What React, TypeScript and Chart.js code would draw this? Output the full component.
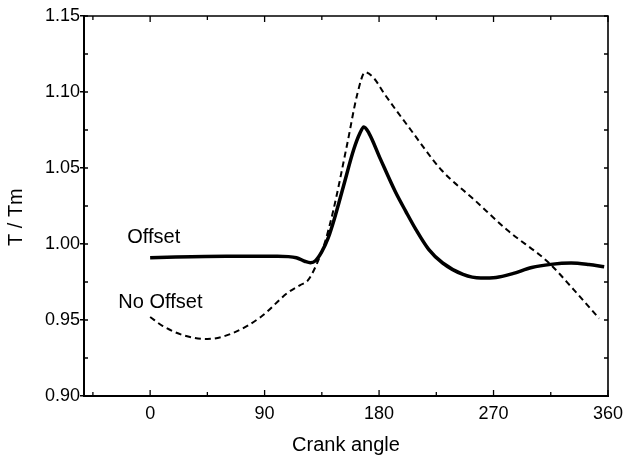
import React, { useEffect, useRef } from "react";
import { Chart, registerables } from "chart.js";

Chart.register(...registerables);

const offsetAngles = [0, 20, 60, 100, 115, 122, 126, 130, 135, 140, 145, 152, 160, 165, 168, 172, 181, 193, 201, 209, 219, 230, 246, 260, 272, 285, 300, 315, 331, 345, 357];
const offsetValues = [0.991, 0.9915, 0.992, 0.992, 0.991, 0.9885, 0.9877, 0.989, 0.995, 1.004, 1.017, 1.038, 1.062, 1.073, 1.077, 1.073, 1.056, 1.034, 1.0215, 1.0095, 0.9965, 0.9875, 0.98, 0.9776, 0.978, 0.9805, 0.9845, 0.9866, 0.9875, 0.9865, 0.985];

const noOffsetAngles = [0, 10, 26, 45, 65, 87, 108, 118, 124, 130, 137, 144, 155, 163, 169, 176, 184, 205, 229, 255, 281, 313, 333, 353];
const noOffsetValues = [0.952, 0.946, 0.94, 0.9375, 0.9414, 0.952, 0.9678, 0.973, 0.976, 0.985, 1.0, 1.022, 1.066, 1.099, 1.113, 1.109, 1.099, 1.075, 1.0487, 1.029, 1.009, 0.988, 0.97, 0.951];

const xTicks = [0, 90, 180, 270, 360];
const xMinorTicks = [-45, 45, 135, 225, 315];
const yTicks = [0.9, 0.95, 1.0, 1.05, 1.1, 1.15];
const yMinorTicks = [0.925, 0.975, 1.025, 1.075, 1.125];

const labels = [
  { text: "Offset", x: -18, y: 1.0046 },
  { text: "No Offset", x: -25, y: 0.9612 },
];

const FONT = "'Liberation Sans', Arial, Helvetica, sans-serif";

const framePlugin = {
  id: "frameTicks",
  afterDatasetsDraw(chart: any) {
    const { ctx, chartArea: a, scales } = chart;
    const xs = scales.x;
    const ys = scales.y;
    ctx.save();
    ctx.strokeStyle = "#000";
    ctx.lineWidth = 1.6;
    ctx.beginPath();
    ctx.moveTo(a.left, a.top);
    ctx.lineTo(a.right, a.top);
    ctx.lineTo(a.right, a.bottom);
    ctx.stroke();
    ctx.lineWidth = 1.3;
    const drawX = (vals: number[], len: number) => {
      vals.forEach((v) => {
        const px = xs.getPixelForValue(v);
        if (px < a.left || px > a.right) return;
        ctx.beginPath();
        ctx.moveTo(px, a.bottom);
        ctx.lineTo(px, a.bottom - len);
        ctx.moveTo(px, a.top);
        ctx.lineTo(px, a.top + len);
        ctx.stroke();
      });
    };
    const drawY = (vals: number[], len: number) => {
      vals.forEach((v) => {
        const py = ys.getPixelForValue(v);
        ctx.beginPath();
        ctx.moveTo(a.left, py);
        ctx.lineTo(a.left + len, py);
        ctx.moveTo(a.right, py);
        ctx.lineTo(a.right - len, py);
        ctx.stroke();
      });
    };
    drawX(xTicks, 6);
    drawX(xMinorTicks, 4);
    drawY(yTicks, 4);
    drawY(yMinorTicks, 4);
    ctx.fillStyle = "#000";
    ctx.font = `20px ${FONT}`;
    ctx.textAlign = "left";
    ctx.textBaseline = "middle";
    labels.forEach((l) => {
      ctx.fillText(l.text, xs.getPixelForValue(l.x), ys.getPixelForValue(l.y));
    });
    ctx.restore();
  },
};

export default function App() {
  const ref = useRef<HTMLCanvasElement | null>(null);
  useEffect(() => {
    if (!ref.current) return;
    const chart = new Chart(ref.current, {
      type: "line",
      data: {
        datasets: [
          {
            label: "Offset",
            data: offsetAngles.map((a, i) => ({ x: a, y: offsetValues[i] })),
            borderColor: "#000",
            borderWidth: 3.5,
            pointRadius: 0,
            fill: false,
            cubicInterpolationMode: "monotone",
          },
          {
            label: "No Offset",
            data: noOffsetAngles.map((a, i) => ({ x: a, y: noOffsetValues[i] })),
            borderColor: "#000",
            borderWidth: 2,
            borderDash: [6, 4],
            pointRadius: 0,
            fill: false,
            cubicInterpolationMode: "monotone",
          },
        ],
      },
      plugins: [framePlugin],
      options: {
        animation: false,
        responsive: true,
        maintainAspectRatio: false,
        layout: { padding: { top: 16, right: 17, left: 0, bottom: 0 } },
        plugins: { legend: { display: false }, tooltip: { enabled: false } },
        scales: {
          x: {
            type: "linear",
            min: -52,
            max: 360,
            afterBuildTicks: (s: any) => {
              s.ticks = xTicks.map((v) => ({ value: v }));
            },
            afterFit: (s: any) => {
              s.height = 66;
              s.paddingRight = 0;
              s.paddingLeft = 0;
            },
            grid: { drawOnChartArea: false, drawTicks: false },
            border: { display: true, color: "#000", width: 2 },
            ticks: {
              color: "#000",
              font: { family: FONT, size: 18 },
              padding: 7,
              autoSkip: false,
              maxRotation: 0,
            },
            title: {
              display: true,
              text: "Crank angle",
              color: "#000",
              font: { family: FONT, size: 20 },
              padding: { top: 0, bottom: 5 },
            },
          },
          y: {
            min: 0.9,
            max: 1.15,
            afterBuildTicks: (s: any) => {
              s.ticks = yTicks.map((v) => ({ value: v }));
            },
            afterFit: (s: any) => {
              s.width = 84;
              s.paddingTop = 0;
              s.paddingBottom = 0;
            },
            grid: { drawOnChartArea: false, drawTicks: true, tickLength: 4, color: "#000", lineWidth: 1.5 },
            border: { display: true, color: "#000", width: 2 },
            ticks: {
              color: "#000",
              font: { family: FONT, size: 18 },
              padding: 0,
              autoSkip: false,
              callback: (v: any) => Number(v).toFixed(2),
            },
            title: {
              display: true,
              text: "T / Tm    ",
              color: "#000",
              font: { family: FONT, size: 20 },
              padding: { top: 4, bottom: 0 },
            },
          },
        },
      },
    } as any);
    return () => chart.destroy();
  }, []);
  return (
    <div style={{ position: "fixed", left: 0, top: 0, width: 625, height: 462, background: "#fff" }}>
      <canvas ref={ref} />
    </div>
  );
}
